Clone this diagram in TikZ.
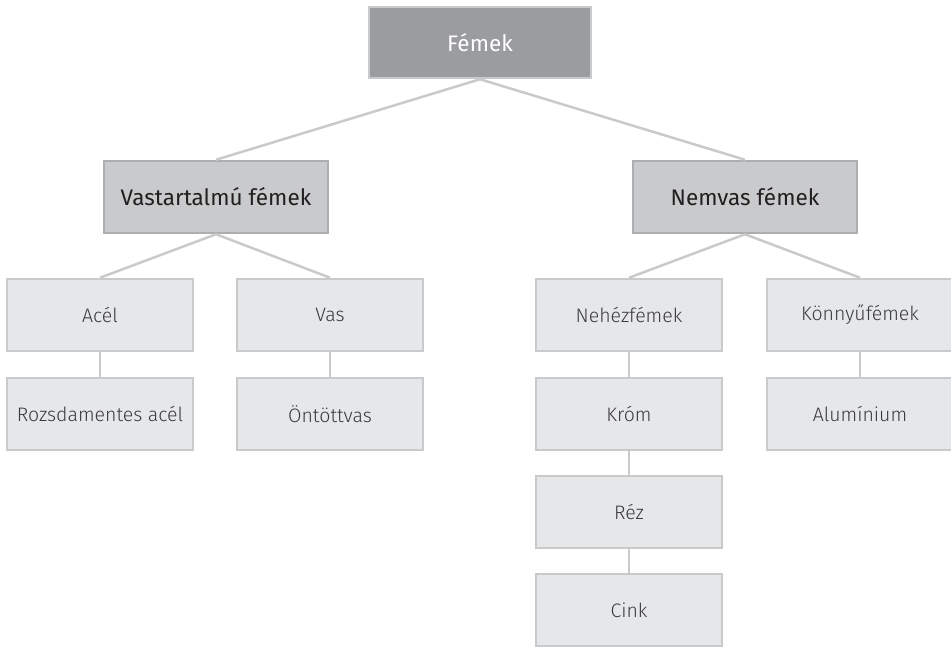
\documentclass[tikz,border=0pt]{standalone}
\usepackage{fontspec}
\setmainfont{Fira Sans}[UprightFont=* Light, BoldFont=* Medium]
\newfontfamily\regfont{Fira Sans}
\usetikzlibrary{positioning}
\definecolor{topgray}{HTML}{9B9C9F}
\definecolor{midgray}{HTML}{C9CACC}
\definecolor{leafgray}{HTML}{E6E7E8}
\definecolor{linegray}{HTML}{C9CACC}
\definecolor{edgegray}{HTML}{ADAEB0}
\definecolor{textgray}{HTML}{3A3A3C}
\definecolor{textdark}{HTML}{231F20}

\begin{document}
\begin{tikzpicture}[x=1pt, y=-1pt,
    topbox/.style={draw=linegray, line width=2.5pt, fill=topgray, text=white,
      minimum width=222pt, minimum height=71pt, font=\regfont\fontsize{22.5}{26}\selectfont},
    groupbox/.style={draw=edgegray, line width=2.5pt, fill=midgray, text=textdark,
      minimum width=224pt, minimum height=72pt, font=\regfont\fontsize{22.5}{26}\selectfont},
    leafbox/.style={draw=linegray, line width=2.5pt, fill=leafgray, text=textgray,
      minimum width=186pt, minimum height=72pt, font=\fontsize{19.5}{23}\selectfont},
    link/.style={draw=linegray, line width=2.5pt}]
  \useasboundingbox (0,0) rectangle (951,647);

  % top level
  \node[topbox] (femek) at (480,42.5) {Fémek};

  % groups
  \node[groupbox] (vastart) at (216,197) {Vastartalmú fémek};
  \node[groupbox] (nemvas) at (745,197) {Nemvas fémek};

  % ferrous
  \node[leafbox] (acel) at (100,315) {Acél};
  \node[leafbox] (vas) at (330,315) {Vas};
  \node[leafbox] (rozsda) at (100,414) {Rozsdamentes acél};
  \node[leafbox] (ontott) at (330,414) {Öntöttvas};

  % non-ferrous
  \node[leafbox] (nehez) at (629,315) {Nehézfémek};
  \node[leafbox] (konnyu) at (860,315) {Könnyűfémek};
  \node[leafbox] (krom) at (629,414) {Króm};
  \node[leafbox] (rez) at (629,512) {Réz};
  \node[leafbox] (cink) at (629,610) {Cink};
  \node[leafbox] (alu) at (860,414) {Alumínium};

  % connectors
  \draw[link] (femek.south) -- (vastart.north);
  \draw[link] (femek.south) -- (nemvas.north);
  \draw[link] (vastart.south) -- (acel.north);
  \draw[link] (vastart.south) -- (vas.north);
  \draw[link] (nemvas.south) -- (nehez.north);
  \draw[link] (nemvas.south) -- (konnyu.north);
  \draw[link] (acel) -- (rozsda);
  \draw[link] (vas) -- (ontott);
  \draw[link] (nehez) -- (krom);
  \draw[link] (krom) -- (rez);
  \draw[link] (rez) -- (cink);
  \draw[link] (konnyu) -- (alu);
\end{tikzpicture}
\end{document}
